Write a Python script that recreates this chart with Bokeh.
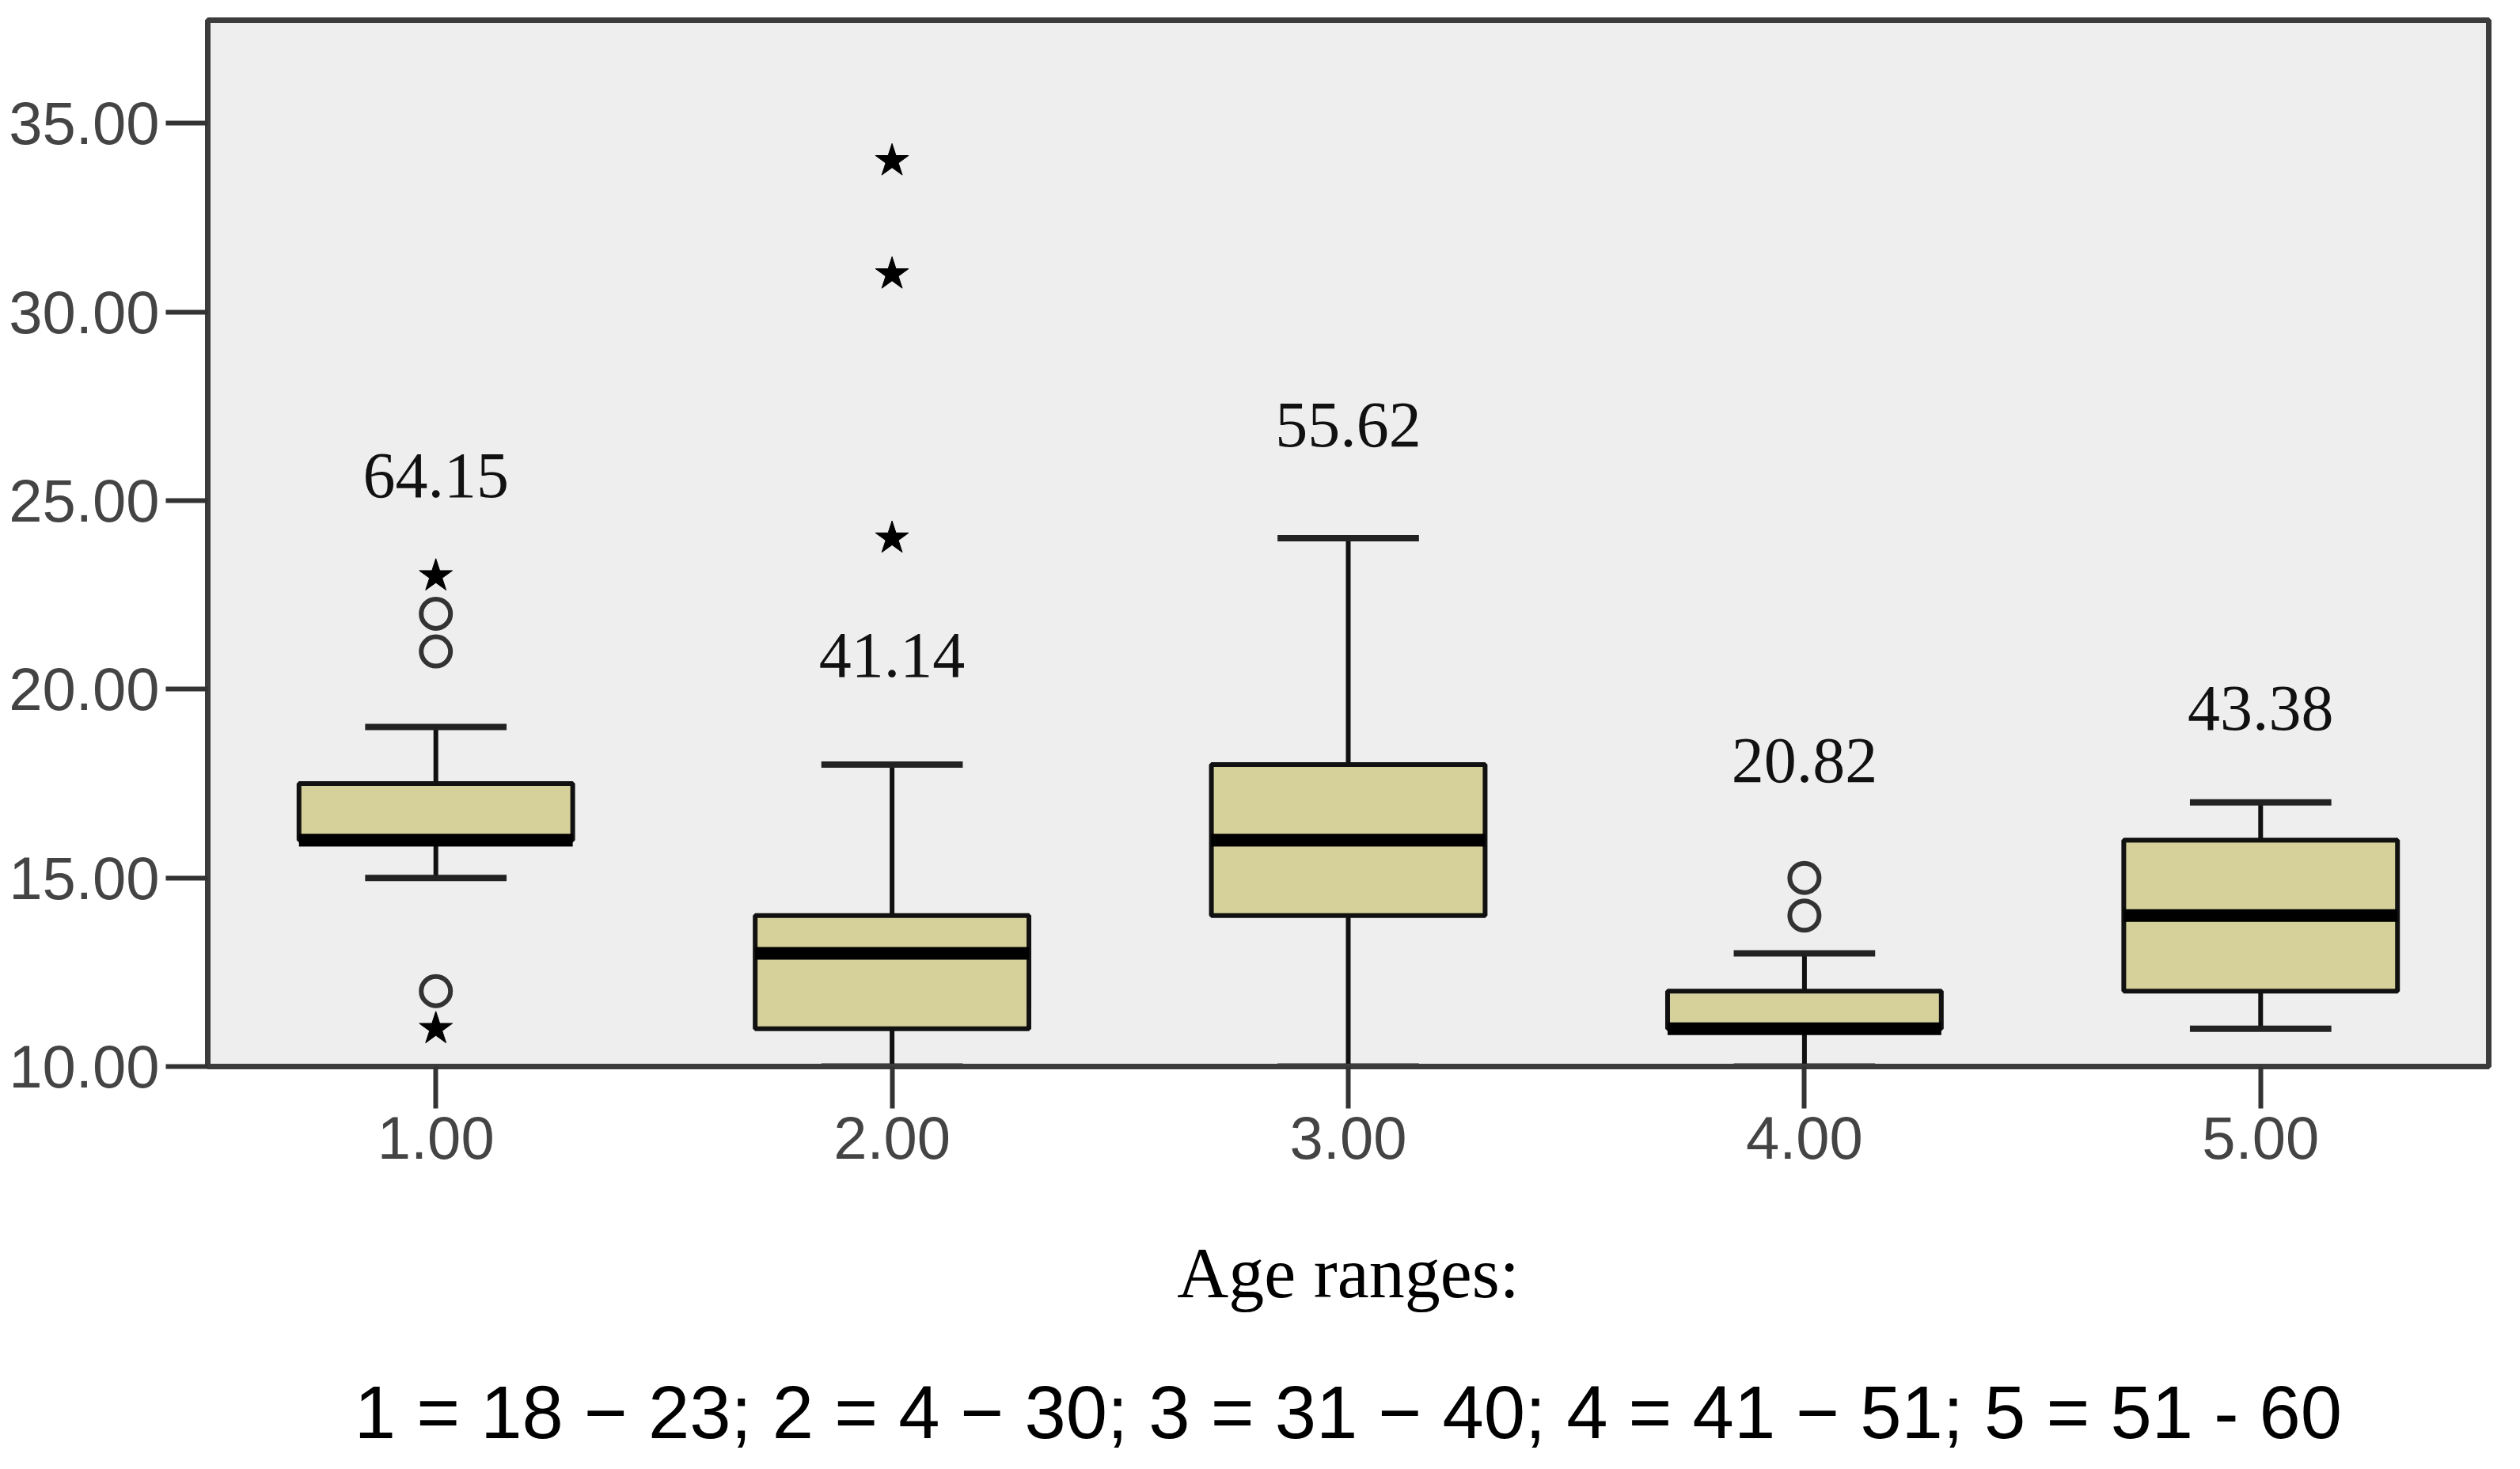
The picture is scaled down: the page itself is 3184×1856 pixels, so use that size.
from bokeh.plotting import figure
from bokeh.models import FixedTicker, NumeralTickFormatter, Title, ColumnDataSource, Range1d
from bokeh.embed import file_html
from bokeh.resources import INLINE
from bokeh.core.properties import value

# ---- data ----
groups = [1, 2, 3, 4, 5]
tick_labels = ["1.00", "2.00", "3.00", "4.00", "5.00"]
q1 = [16, 11, 14, 11, 12]
median = [16, 13, 16, 11, 14]
q3 = [17.5, 14, 18, 12, 16]
lower = [15, 10, 10, 10, 11]
upper = [19, 18, 24, 13, 17]
circle_x = [1, 1, 1, 4, 4]
circle_y = [21, 22, 12, 14, 15]
star_x = [1, 1, 2, 2, 2]
star_y = [23, 11, 34, 31, 24]
group_labels = ["64.15", "41.14", "55.62", "20.82", "43.38"]
label_y = [25.65, 20.9, 27.0, 18.1, 19.5]
y_ticks = [10, 15, 20, 25, 30, 35]
x_title = "Age ranges:"
note = "1 = 18 \u2212 23; 2 = 4 \u2212 30; 3 = 31 \u2212 40; 4 = 41 \u2212 51; 5 = 51 - 60"

BOX_W = 0.6
CAP_W = 0.31

src = ColumnDataSource(dict(
    x=groups, q1=q1, med=median, q3=q3, lo=lower, hi=upper,
    xl=[g - BOX_W / 2 for g in groups], xr=[g + BOX_W / 2 for g in groups],
    cl=[g - CAP_W / 2 for g in groups], cr=[g + CAP_W / 2 for g in groups],
))

p = figure(width=3168, height=1840, x_range=Range1d(0.5, 5.5), y_range=Range1d(10, 37.73),
           output_backend="svg", toolbar_location=None,
           min_border_left=262, min_border_right=24, min_border_top=25, min_border_bottom=0)
p.background_fill_color = "#eeeeee"
p.border_fill_color = "white"
p.outline_line_color = "#3c3c3c"
p.outline_line_width = 7
p.xgrid.visible = False
p.ygrid.visible = False

# whiskers
p.segment(x0="x", y0="q3", x1="x", y1="hi", source=src, line_color="#111111", line_width=6)
p.segment(x0="x", y0="q1", x1="x", y1="lo", source=src, line_color="#111111", line_width=6)
p.segment(x0="cl", y0="hi", x1="cr", y1="hi", source=src, line_color="#222222", line_width=8)
p.segment(x0="cl", y0="lo", x1="cr", y1="lo", source=src, line_color="#222222", line_width=8)
# boxes
p.vbar(x="x", width=BOX_W, top="q3", bottom="q1", source=src,
       fill_color="#d6d19a", line_color="#111111", line_width=6)
# medians
p.segment(x0="xl", y0="med", x1="xr", y1="med", source=src, line_color="black", line_width=16)

# outliers
p.scatter(circle_x, circle_y, marker="circle", size=37, fill_color=None,
          line_color="#333333", line_width=6)
p.scatter(star_x, star_y, marker="star", size=44, fill_color="black", line_color="black", line_width=1)

# group labels
p.text(x=groups, y=label_y, text=group_labels, text_align="center", text_baseline="middle",
       text_font=value("Liberation Serif"), text_font_size="82px", text_color="#111111")

# axes
for ax in (p.xaxis[0], p.yaxis[0]):
    ax.axis_line_color = "#3c3c3c"
    ax.axis_line_width = 7
    ax.major_tick_line_color = "#333333"
    ax.major_tick_line_width = 6
    ax.major_tick_out = 53
    ax.major_tick_in = 0
    ax.minor_tick_line_color = None
    ax.major_label_text_font = "Liberation Sans"
    ax.major_label_text_font_size = "76px"
    ax.major_label_text_color = "#444444"

p.yaxis.ticker = FixedTicker(ticks=y_ticks)
p.yaxis.formatter = NumeralTickFormatter(format="0.00")
p.yaxis.major_label_standoff = 8
p.xaxis.ticker = FixedTicker(ticks=groups)
p.xaxis.major_label_overrides = {g: t for g, t in zip(groups, tick_labels)}
p.xaxis.major_label_standoff = 10
# blank axis label used only as vertical spacing
p.xaxis.axis_label = " "
p.xaxis.axis_label_text_font_size = "2px"
p.xaxis.axis_label_standoff = 17

# texts below the chart, stacked under the x axis
t1 = Title(text=x_title, align="center", vertical_align="top", standoff=140,
           text_font="Liberation Serif", text_font_size="90px", text_font_style="normal",
           text_color="black")
p.add_layout(t1, "below")
t2 = Title(text=note, align="center", vertical_align="top", standoff=4,
           text_font="Liberation Sans", text_font_size="94px", text_font_style="normal",
           text_color="black")
p.add_layout(t2, "below")

open("out.html", "w").write(file_html(p, INLINE))
